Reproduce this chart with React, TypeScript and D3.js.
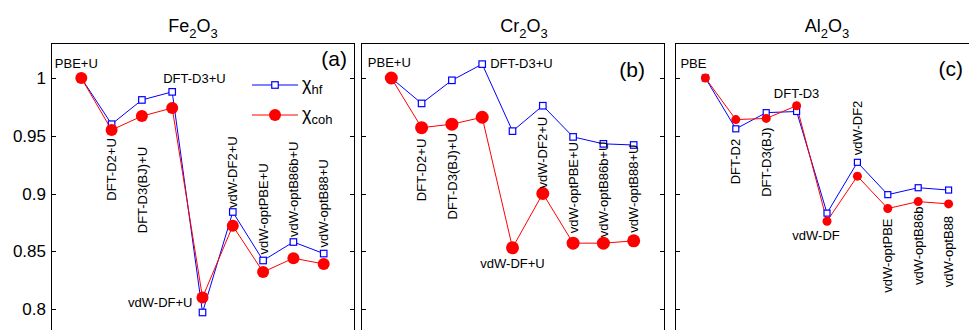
import React from 'react';
import * as d3 from 'd3';

// x categories (functionals)
const methods = ['PBE', 'DFT-D2', 'DFT-D3(BJ)', 'DFT-D3', 'vdW-DF', 'vdW-DF2', 'vdW-optPBE', 'vdW-optB86b', 'vdW-optB88'];

// values
const feHf = [1.0, 0.960, 0.981, 0.988, 0.797, 0.884, 0.842, 0.858, 0.848];
const feCoh = [1.0, 0.955, 0.967, 0.974, 0.810, 0.872, 0.832, 0.844, 0.839];
const crHf = [1.0, 0.978, 0.998, 1.012, 0.954, 0.976, 0.949, 0.943, 0.942];
const crCoh = [1.0, 0.957, 0.960, 0.966, 0.853, 0.900, 0.857, 0.857, 0.859];
const alHf = [1.0, 0.956, 0.970, 0.971, 0.883, 0.927, 0.899, 0.905, 0.903];
const alCoh = [1.0, 0.964, 0.965, 0.976, 0.876, 0.915, 0.887, 0.893, 0.891];

const yTicks = [0.8, 0.85, 0.9, 0.95, 1];
const yTickLabels = ['0.8', '0.85', '0.9', '0.95', '1'];

const FONT = '"Liberation Sans", Arial, sans-serif';
const BLUE = '#0000ff';
const RED = '#ff0000';

type Lab = [string, string, string, number, number]; // mode, anchor, ref series, dx, dy

// label placement (layout only)
const labelsA: Lab[] = [
  ['h', 'middle', 'hf', -5, -10],
  ['down', '', 'hf', 0, 14],
  ['down', '', 'hf', 0, 47],
  ['h', 'start', 'hf', -9, -9],
  ['h', 'end', 'hf', -10, -5],
  ['up', '', 'hf', 0, -4],
  ['up', '', 'hf', 0, -6],
  ['up', '', 'hf', 0, -5],
  ['up', '', 'hf', 0, -6],
];
const labelsB: Lab[] = [
  ['h', 'middle', 'coh', -2, -11],
  ['down', '', 'coh', 0, 11],
  ['down', '', 'coh', 0, 9],
  ['h', 'start', 'hf', 8, 4],
  ['h', 'middle', 'coh', 0, 20],
  ['up', '', 'coh', 0, -5],
  ['up', '', 'coh', 0, -10],
  ['up', '', 'coh', 0, -6],
  ['up', '', 'coh', 0, -8],
];
const labelsC: Lab[] = [
  ['h', 'middle', 'hf', -12, -10],
  ['down', '', 'hf', 0, 10],
  ['down', '', 'coh', 0, 9],
  ['h', 'middle', 'coh', 0, -8],
  ['h', 'middle', 'coh', -11, 19],
  ['up', '', 'hf', 0, -7],
  ['down', '', 'coh', 0, 10],
  ['down', '', 'coh', 0, 5],
  ['down', '', 'coh', 0, 12],
];

const panels = [
  { x0: 51, x1: 354, hf: feHf, coh: feCoh, suffix: '+U', labels: labelsA, el: 'Fe', titleX: 193, tag: '(a)', tagX: 347, tagY: 66, r: 6, sq: 6.5, legend: true },
  { x0: 361, x1: 664, hf: crHf, coh: crCoh, suffix: '+U', labels: labelsB, el: 'Cr', titleX: 524, tag: '(b)', tagX: 645, tagY: 77, r: 6.5, sq: 6.5, legend: false },
  { x0: 675, x1: 979, hf: alHf, coh: alCoh, suffix: '', labels: labelsC, el: 'Al', titleX: 827, tag: '(c)', tagX: 963, tagY: 76, r: 4.5, sq: 6, legend: false },
];

const top = 43;
const bottom = 345;
const y = d3.scaleLinear().domain([0.8, 1]).range([309, 78]);

function Panel({ p }: { p: typeof panels[number] }) {
  const x = d3.scaleLinear().domain([-1, 9]).range([p.x0, p.x1]);
  const line = d3.line<number>().x((_, i) => x(i)).y(d => y(d));
  return (
    <g>
      <rect x={p.x0 + 0.5} y={top + 0.5} width={p.x1 - p.x0} height={bottom - top} fill="white" stroke="#000" strokeWidth={1} />
      {yTicks.map(t => (
        <g key={t}>
          <line x1={p.x0} x2={p.x0 + 5} y1={Math.round(y(t)) + 0.5} y2={Math.round(y(t)) + 0.5} stroke="#000" />
          <line x1={p.x1 + 1} x2={p.x1 - 4} y1={Math.round(y(t)) + 0.5} y2={Math.round(y(t)) + 0.5} stroke="#000" />
        </g>
      ))}
      <text x={p.titleX} y={32} textAnchor="middle" fontFamily={FONT} fontSize={18}>
        {p.el}<tspan fontSize={13} dy={6}>2</tspan><tspan dy={-6}>O</tspan><tspan fontSize={13} dy={6}>3</tspan>
      </text>
      <text x={p.tagX} y={p.tagY} textAnchor="end" fontFamily={FONT} fontSize={21}>{p.tag}</text>

      <path d={line(p.hf) || ''} fill="none" stroke={BLUE} strokeWidth={1} />
      <path d={line(p.coh) || ''} fill="none" stroke={RED} strokeWidth={1} />
      {p.hf.map((v, i) => (
        <rect key={'s' + i} x={x(i) - p.sq / 2} y={y(v) - p.sq / 2} width={p.sq} height={p.sq} fill="white" stroke={BLUE} strokeWidth={1.2} />
      ))}
      {p.coh.map((v, i) => (
        <circle key={'c' + i} cx={x(i)} cy={y(v)} r={p.r} fill={RED} />
      ))}

      {methods.map((m, i) => {
        const [mode, anchor, ref, dx, dy] = p.labels[i];
        const v = ref === 'hf' ? p.hf[i] : p.coh[i];
        const px = x(i) + dx;
        const py = y(v) + dy;
        const txt = m + p.suffix;
        if (mode === 'h') {
          return <text key={m} x={px} y={py} textAnchor={anchor} fontFamily={FONT} fontSize={13}>{txt}</text>;
        }
        return (
          <text key={m} transform={`translate(${px + 4.6},${py}) rotate(-90)`} textAnchor={mode === 'up' ? 'start' : 'end'} fontFamily={FONT} fontSize={13}>{txt}</text>
        );
      })}

      {p.legend && (
        <g fontFamily={FONT}>
          <line x1={252} x2={298} y1={85} y2={85} stroke={BLUE} />
          <rect x={275 - p.sq / 2} y={85 - p.sq / 2} width={p.sq} height={p.sq} fill="white" stroke={BLUE} strokeWidth={1.2} />
          <text x={302} y={90} fontSize={18}>χ<tspan fontSize={13} dy={4}>hf</tspan></text>
          <line x1={252} x2={298} y1={115} y2={115} stroke={RED} />
          <circle cx={275} cy={115} r={p.r} fill={RED} />
          <text x={302} y={120} fontSize={18}>χ<tspan fontSize={13} dy={4}>coh</tspan></text>
        </g>
      )}
    </g>
  );
}

export default function App() {
  return (
    <svg width={969} height={330} style={{ position: 'absolute', left: 0, top: 0, background: 'white' }}>
      <rect width={969} height={330} fill="white" />
      {panels.map(p => <Panel key={p.el} p={p} />)}
      {yTicks.map((t, i) => (
        <text key={t} x={46} y={y(t) + 6} textAnchor="end" fontFamily={FONT} fontSize={17}>{yTickLabels[i]}</text>
      ))}
    </svg>
  );
}
